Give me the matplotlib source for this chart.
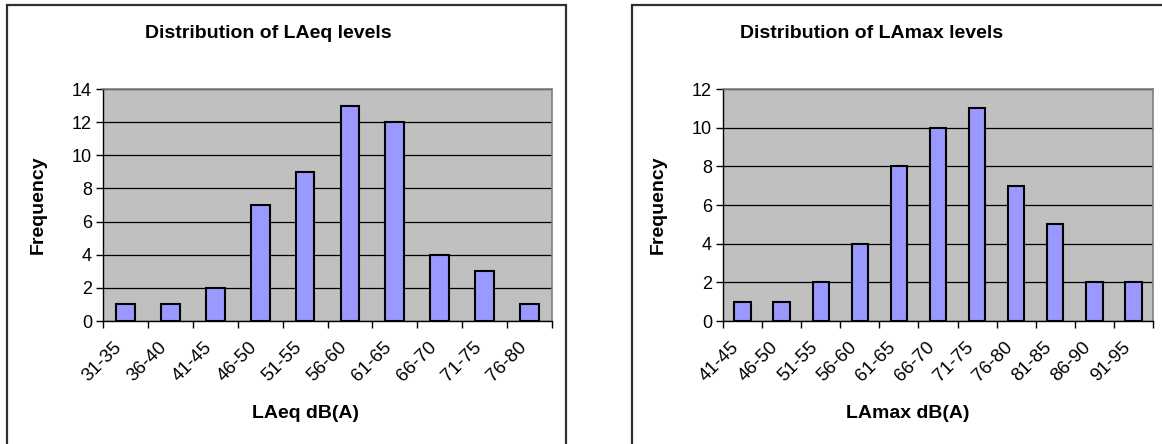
import numpy as np
import matplotlib.pyplot as plt
from matplotlib.patches import Rectangle

plt.rcParams['font.family'] = ['Liberation Sans', 'DejaVu Sans']

# LAeq histogram
laeq_bins = ['31-35', '36-40', '41-45', '46-50', '51-55', '56-60',
             '61-65', '66-70', '71-75', '76-80']
laeq_counts = [1, 1, 2, 7, 9, 13, 12, 4, 3, 1]

# LAmax histogram
lamax_bins = ['41-45', '46-50', '51-55', '56-60', '61-65', '66-70',
              '71-75', '76-80', '81-85', '86-90', '91-95']
lamax_counts = [1, 1, 2, 4, 8, 10, 11, 7, 5, 2, 2]

W, H = 1162, 444
fig = plt.figure(figsize=(W / 100, H / 100), dpi=100)


def px_axes(x0, y0, x1, y1):
    # axes from pixel box (top-left origin)
    return fig.add_axes([x0 / W, 1 - y1 / H, (x1 - x0) / W, (y1 - y0) / H])


def frame(x0, y0, x1, y1):
    fig.patches.append(Rectangle((x0 / W, 1 - y1 / H), (x1 - x0) / W, (y1 - y0) / H,
                                 transform=fig.transFigure, fill=False,
                                 edgecolor='#303030', linewidth=1.6, zorder=0))


def histo(ax, labels, counts, ymax, title, xlabel, title_x, xlabel_x, ylabel_x):
    n = len(labels)
    x = np.arange(n)
    ax.set_facecolor('#C0C0C0')
    ax.bar(x, counts, width=0.42, color='#9999FF', edgecolor='black',
           linewidth=1.5, zorder=3)
    ax.set_xlim(-0.5, n - 0.5)
    ax.set_ylim(0, ymax)
    ax.set_yticks(np.arange(0, ymax + 1, 2))
    ax.yaxis.grid(True, color='black', linewidth=0.9, zorder=1)
    ax.set_axisbelow(True)
    # ticks at category boundaries, labels at centres
    ax.set_xticks(np.arange(n + 1) - 0.5)
    ax.set_xticklabels([])
    ax.set_xticks(x, minor=True)
    ax.set_xticklabels(labels, minor=True, rotation=45, ha='right', va='top',
                       rotation_mode='default', fontsize=13.5)
    ax.tick_params(axis='x', which='minor', length=0, pad=13)
    ax.tick_params(axis='x', which='major', length=5, width=1, color='black', direction='out')
    ax.tick_params(axis='y', length=5, width=1, labelsize=13, pad=3)
    for s in ['top', 'right']:
        ax.spines[s].set_color('#808080')
        ax.spines[s].set_linewidth(1.2)
    for s in ['left', 'bottom']:
        ax.spines[s].set_color('black')
        ax.spines[s].set_linewidth(1)
    fig.text(title_x / W, 1 - 33 / H, title, ha='center', va='center',
             fontsize=14, fontweight='bold')
    fig.text(xlabel_x / W, 1 - 413 / H, xlabel, ha='center', va='center',
             fontsize=14, fontweight='bold')
    fig.text(ylabel_x / W, 1 - 205 / H, 'Frequency', ha='center', va='center',
             rotation=90, fontsize=14, fontweight='bold')


frame(7, 5, 566, 470)
frame(632, 5, 1190, 470)

ax1 = px_axes(103, 89, 552, 321)
histo(ax1, laeq_bins, laeq_counts, 14, 'Distribution of LAeq levels',
      'LAeq dB(A)', 268, 305, 38)

ax2 = px_axes(723, 89, 1153, 321)
histo(ax2, lamax_bins, lamax_counts, 12, 'Distribution of LAmax levels',
      'LAmax dB(A)', 872, 908, 658)

fig.savefig('out.png', dpi=100, facecolor='white')
